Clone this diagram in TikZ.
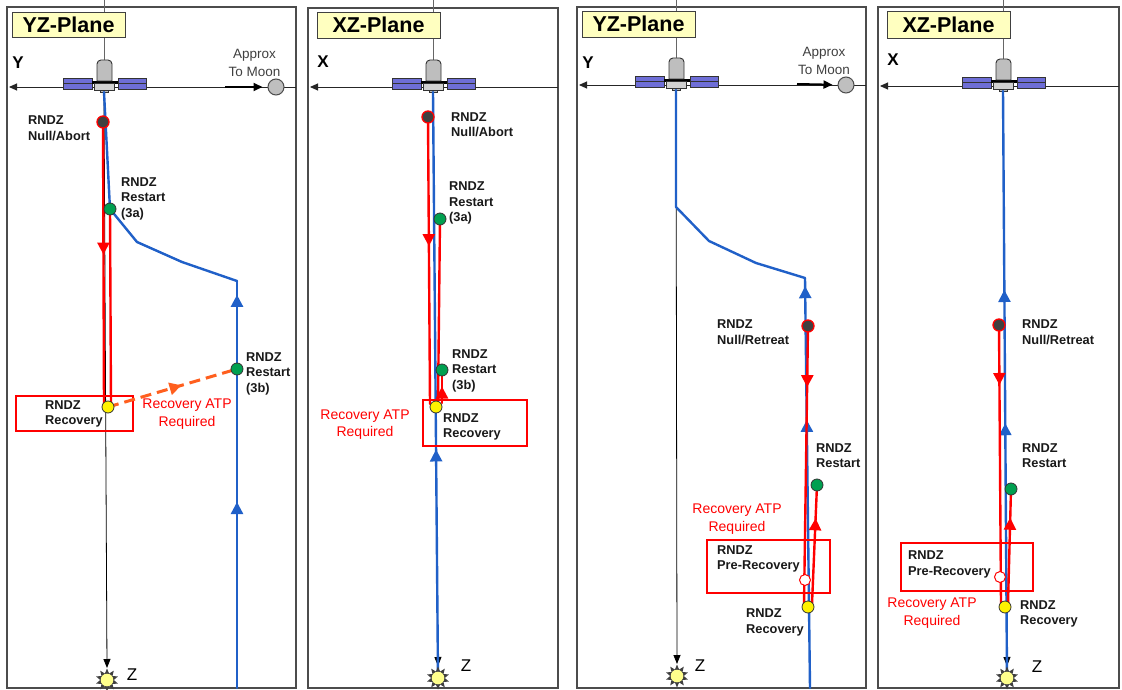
\documentclass[tikz,border=0pt]{standalone}
\usepackage{fontspec}
\setmainfont{Liberation Sans}
\usetikzlibrary{arrows.meta,decorations.markings,shapes.geometric,calc}
\definecolor{trajblue}{RGB}{32,96,200}
\definecolor{dashorange}{RGB}{255,95,30}
\definecolor{dotgreen}{RGB}{0,160,80}
\definecolor{titleyel}{RGB}{255,255,192}
\definecolor{panelblue}{RGB}{110,110,215}
\definecolor{satgray}{RGB}{190,190,190}
\definecolor{sunyel}{RGB}{255,255,140}
\tikzset{
 frame/.style={draw=black!70, line width=1.1pt},
 topln/.style={draw=black!60, line width=0.8pt},
 axisln/.style={draw=black!85, line width=0.9pt, -{Triangle[length=8pt,width=7pt]}},
 zax/.style={draw=black, line width=0.8pt, -{Triangle[length=9pt,width=7pt]}},
 bline/.style={draw=trajblue, line width=2.4pt, line cap=round, line join=round},
 rline/.style={draw=red, line width=2.4pt, line cap=round},
 dline/.style={draw=dashorange, line width=3pt, dash pattern=on 11pt off 6pt},
 rbox/.style={draw=red, line width=2pt, rectangle, inner sep=0pt},
 title/.style={draw=black!75, fill=titleyel, line width=0.9pt, inner sep=0pt, font=\fontsize{21.5}{24}\selectfont\bfseries},
 lbl/.style={font=\fontsize{12.8}{15.5}\selectfont\bfseries, text=black!90, align=left, anchor=west, inner sep=0pt},
 rtxt/.style={font=\fontsize{14}{17.5}\selectfont, text=red, align=center, inner sep=0pt},
 mtxt/.style={font=\fontsize{13.5}{17.5}\selectfont, text=black!75, align=center, inner sep=0pt},
 axlbl/.style={font=\fontsize{17}{20}\selectfont\bfseries, inner sep=0pt},
 zlbl/.style={font=\fontsize{17}{20}\selectfont, inner sep=0pt},
 gdot/.style={circle, draw=black!80, line width=0.8pt, fill=dotgreen, minimum size=12pt, inner sep=0pt},
 ydot/.style={circle, draw=black!80, line width=0.8pt, fill=yellow, minimum size=12pt, inner sep=0pt},
 ndot/.style={circle, draw=red, line width=1.3pt, fill=black!75, minimum size=12pt, inner sep=0pt},
 wdot/.style={circle, draw=red, line width=1pt, fill=white, minimum size=11pt, inner sep=0pt},
 moon/.style={circle, draw=black!70, line width=1pt, fill=black!25, minimum size=16pt, inner sep=0pt},
 moonarr/.style={draw=black, line width=2pt, -{Triangle[length=9pt,width=8pt]}, shorten >=5pt},
 sun/.style={star, star points=10, star point ratio=1.7, minimum size=23pt, inner sep=0pt, fill=black!75,
   path picture={\fill[sunyel] (path picture bounding box.center) circle (6.3pt);}},
 satline/.style={draw=black!80, line width=0.9pt},
 marr/.style={postaction={decorate, decoration={markings, mark=at position #1 with {\arrow{Triangle[length=12pt,width=12pt]}}}}}
}
\newcommand\drawsat[2]{%
\begin{scope}[shift={(#1,#2)}]
 \draw[satline, fill=panelblue] (-41,-9) rectangle (-12,2);
 \draw[satline] (-41,-3.5) -- (-12,-3.5);
 \draw[satline, fill=panelblue] (14,-9) rectangle (42,2);
 \draw[satline] (14,-3.5) -- (42,-3.5);
 \fill[black] (-12,-6) rectangle (14,-3);
 \draw[satline, fill=satgray] (-7,-6) {[rounded corners=4pt] -- (-7,-27) -- (8,-27)} -- (8,-6) -- cycle;
 \draw[satline, fill=satgray!70!white] (-10,-4) rectangle (10,3);
 \draw[satline, fill=satgray] (-4,3) rectangle (4,5);
\end{scope}}
\begin{document}
\begin{tikzpicture}[x=1pt,y=-1pt]
\useasboundingbox (0,0) rectangle (1122,690);
\fill[white] (0,0) rectangle (1122,690);

%================ PANEL 1 =================
\draw[frame] (7,7) rectangle (296,688);
\draw[topln] (104,0) -- (104,62);
\node[title, minimum width=113pt, minimum height=25pt] (t1) at (68.5,24.5) {YZ-Plane};
\draw[axisln] (296,87) -- (9,87);
\node[axlbl] (y1) at (18,63) {Y};
\drawsat{104}{87}
\node[mtxt] (am1) at (254.5,63) {Approx\\To Moon};
\node[moon] (m1) at (276,87) {};
\coordinate (ma1) at (225,87);
\draw[moonarr] (ma1) -- (m1);
\coordinate (s1) at (104,92);
\coordinate (sun1c) at (107,680);
\coordinate (zt1) at (107,668);
\coordinate (null1c) at (103,122);
\coordinate (a3c) at (110,209);
\coordinate (b3c) at (237,369);
\coordinate (rec1c) at (108,407);
\coordinate (k1a) at (137,242);
\coordinate (k1b) at (182,262);
\coordinate (k1c) at (237,281);
\coordinate (b1) at (237,688);
\draw[zax] (s1) -- (zt1);
\draw[bline, marr=0.457, marr=0.966] (b1) -- (k1c);
\draw[bline] (k1c) -- (k1b) -- (k1a) -- (a3c) -- (s1);
\node[rbox, minimum width=117pt, minimum height=35pt] (box1) at (74.5,413.5) {};
\draw[rline, marr=0.47] (null1c) -- ($(rec1c)+(-4,-3)$);
\draw[rline] (a3c) -- ($(rec1c)+(3,-3)$);
\draw[dline, marr=0.57] (rec1c) -- (b3c);
\node[lbl] (l1n) at (28,128) {RNDZ\\Null/Abort};
\node[lbl] (l1a) at (121,198.5) {RNDZ\\Restart\\(3a)};
\node[lbl] (l1b) at (246,373.5) {RNDZ\\Restart\\(3b)};
\node[lbl] (l1r) at (45,414) {RNDZ\\Recovery};
\node[rtxt] (r1) at (187,414) {Recovery ATP\\Required};
\node[ndot] (null1) at (null1c) {};
\node[gdot] (r3a) at (a3c) {};
\node[gdot] (r3b) at (b3c) {};
\node[ydot] (rec1) at (rec1c) {};
\node[sun] (sun1) at (sun1c) {};
\node[zlbl] (z1) at (132,675) {Z};

%================ PANEL 2 =================
\draw[frame] (308,8) rectangle (558,688);
\draw[topln] (433,0) -- (433,62);
\node[title, minimum width=123pt, minimum height=26pt] (t2) at (378.5,25) {XZ-Plane};
\draw[axisln] (558,87) -- (310,87);
\node[axlbl] (x2) at (323,62) {X};
\drawsat{433}{87}
\coordinate (s2) at (433,92);
\coordinate (sun2c) at (438,678);
\coordinate (zt2) at (438,666);
\coordinate (null2c) at (428,117);
\coordinate (a32c) at (440,219);
\coordinate (b32c) at (442,370);
\coordinate (rec2c) at (436,407);
\draw[zax] (s2) -- (zt2);
\draw[bline, marr=0.39] (sun2c) -- (s2);
\node[rbox, minimum width=104pt, minimum height=46pt] (box2) at (475,423) {};
\draw[rline, marr=0.45] (null2c) -- ($(rec2c)+(-6,-3)$);
\draw[rline] (a32c) -- ($(rec2c)+(2,-3)$);
\draw[rline, marr=0.5] ($(rec2c)+(6,-4)$) -- (b32c);
\node[lbl] (l2n) at (451,124.5) {RNDZ\\Null/Abort};
\node[lbl] (l2a) at (449,203) {RNDZ\\Restart\\(3a)};
\node[lbl] (l2b) at (452,370.5) {RNDZ\\Restart\\(3b)};
\node[lbl] (l2r) at (443,427) {RNDZ\\Recovery};
\node[rtxt] (r2) at (365,424.5) {Recovery ATP\\Required};
\node[ndot] (null2) at (null2c) {};
\node[gdot] (r3a2) at (a32c) {};
\node[gdot] (r3b2) at (b32c) {};
\node[ydot] (rec2) at (rec2c) {};
\node[sun] (sun2) at (sun2c) {};
\node[zlbl] (z2) at (466,666) {Z};

%================ PANEL 3 =================
\draw[frame] (577,7) rectangle (866,688);
\draw[topln] (676,0) -- (676,60);
\node[title, minimum width=113pt, minimum height=26pt] (t3) at (638.5,24) {YZ-Plane};
\draw[axisln] (866,85) -- (579,85);
\node[axlbl] (y3) at (588,63) {Y};
\drawsat{676}{85}
\node[mtxt] (am3) at (824,61) {Approx\\To Moon};
\node[moon] (m3) at (846,85) {};
\coordinate (ma3) at (797,84);
\draw[moonarr] (ma3) -- (m3);
\coordinate (s3) at (676,90);
\coordinate (sun3c) at (677,676);
\coordinate (zt3) at (677,664);
\coordinate (k3a) at (676,207);
\coordinate (k3b) at (709,241);
\coordinate (k3c) at (756,263);
\coordinate (k3d) at (805,278);
\coordinate (b3) at (810,688);
\coordinate (null3c) at (808,326);
\coordinate (pre3c) at (805,580);
\coordinate (rst3c) at (817,485);
\coordinate (rec3c) at (808,607);
\draw[zax] (s3) -- (zt3);
\draw[bline, marr=0.654, marr=0.98] (b3) -- (k3d);
\draw[bline] (k3d) -- (k3c) -- (k3b) -- (k3a) -- (s3);
\node[rbox, minimum width=123pt, minimum height=53pt] (box3) at (768.5,566.5) {};
\draw[rline, marr=0.22] (null3c) -- ($(rec3c)+(-4,-3)$);
\draw[rline, marr=0.72] ($(rec3c)+(4,-3)$) -- (rst3c);
\node[lbl] (l3n) at (717,332) {RNDZ\\Null/Retreat};
\node[lbl] (l3s) at (816,455.5) {RNDZ\\Restart};
\node[lbl] (l3p) at (717,559) {RNDZ\\Pre-Recovery};
\node[lbl] (l3r) at (746,622.5) {RNDZ\\Recovery};
\node[rtxt] (r3) at (737,519) {Recovery ATP\\Required};
\node[ndot] (null3) at (null3c) {};
\node[wdot] (pre3) at (pre3c) {};
\node[gdot] (rst3) at (rst3c) {};
\node[ydot] (rec3) at (rec3c) {};
\node[sun] (sun3) at (sun3c) {};
\node[zlbl] (z3) at (700,666) {Z};

%================ PANEL 4 =================
\draw[frame] (878,7) rectangle (1119,688);
\draw[topln] (1003,0) -- (1003,61);
\node[title, minimum width=123pt, minimum height=27pt] (t4) at (948.5,24.5) {XZ-Plane};
\draw[axisln] (1119,86) -- (880,86);
\node[axlbl] (x4) at (893,60) {X};
\drawsat{1003}{86}
\coordinate (s4) at (1003,91);
\coordinate (sun4c) at (1007,678);
\coordinate (zt4) at (1007,666);
\coordinate (null4c) at (999,325);
\coordinate (pre4c) at (1000,577);
\coordinate (rst4c) at (1011,489);
\coordinate (rec4c) at (1005,607);
\draw[zax] (s4) -- (zt4);
\draw[bline, marr=0.434, marr=0.661] (sun4c) -- (s4);
\node[rbox, minimum width=132pt, minimum height=48pt] (box4) at (967,567) {};
\draw[rline, marr=0.215] (null4c) -- ($(rec4c)+(-4,-3)$);
\draw[rline, marr=0.75] ($(rec4c)+(3,-3)$) -- (rst4c);
\node[lbl] (l4n) at (1022,332) {RNDZ\\Null/Retreat};
\node[lbl] (l4s) at (1022,455.5) {RNDZ\\Restart};
\node[lbl] (l4p) at (908,564.5) {RNDZ\\Pre-Recovery};
\node[lbl] (l4r) at (1020,614) {RNDZ\\Recovery};
\node[rtxt] (r4) at (932,613) {Recovery ATP\\Required};
\node[ndot] (null4) at (null4c) {};
\node[wdot] (pre4) at (pre4c) {};
\node[gdot] (rst4) at (rst4c) {};
\node[ydot] (rec4) at (rec4c) {};
\node[sun] (sun4) at (sun4c) {};
\node[zlbl] (z4) at (1037,667) {Z};
\end{tikzpicture}
\end{document}
